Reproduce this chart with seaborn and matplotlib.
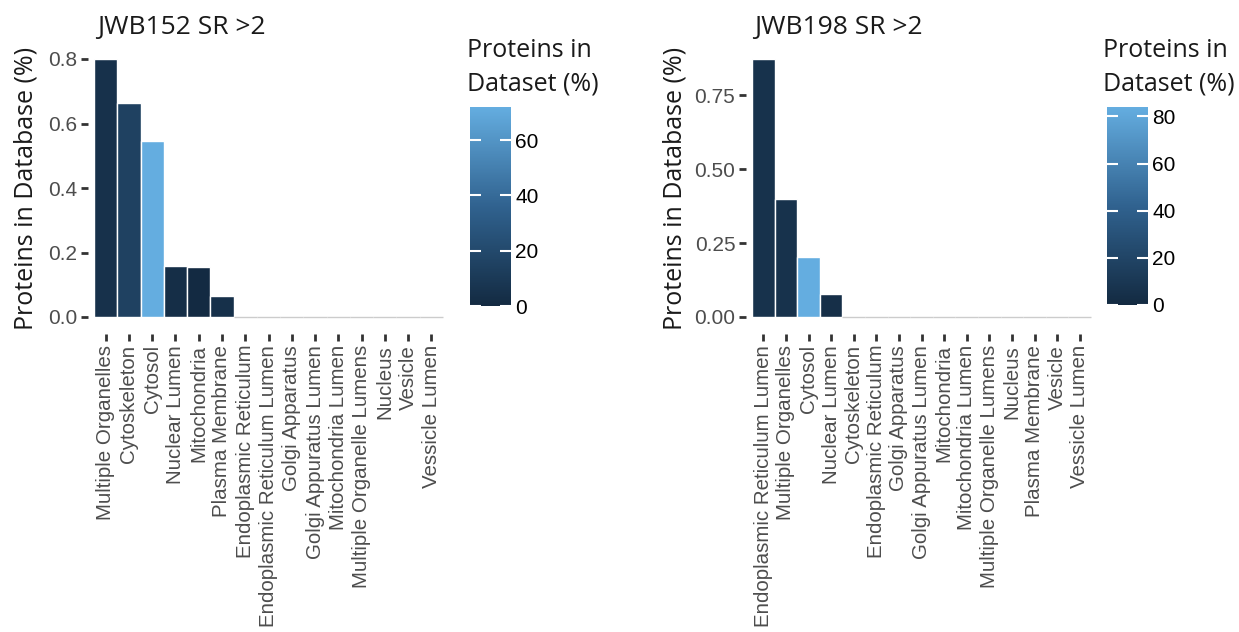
import matplotlib
matplotlib.use("Agg")
import matplotlib.pyplot as plt
import seaborn as sns
import numpy as np
import pandas as pd
from matplotlib.colors import LinearSegmentedColormap, Normalize
from matplotlib.cm import ScalarMappable

# ---------------- data ----------------
cats_a = ["Multiple Organelles", "Cytoskeleton", "Cytosol", "Nuclear Lumen", "Mitochondria",
          "Plasma Membrane", "Endoplasmic Reticulum", "Endoplasmic Reticulum Lumen",
          "Golgi Apparatus", "Golgi Appuratus Lumen", "Mitochondria Lumen",
          "Multiple Organelle Lumens", "Nucleus", "Vesicle", "Vessicle Lumen"]
db_a = [0.80, 0.663, 0.546, 0.158, 0.154, 0.064, 0, 0, 0, 0, 0, 0, 0, 0, 0]
ds_a = [5, 15, 72, 3, 0.5, 4, 0, 0, 0, 0, 0, 0, 0, 0, 0]

cats_b = ["Endoplasmic Reticulum Lumen", "Multiple Organelles", "Cytosol", "Nuclear Lumen",
          "Cytoskeleton", "Endoplasmic Reticulum", "Golgi Apparatus", "Golgi Appuratus Lumen",
          "Mitochondria", "Mitochondria Lumen", "Multiple Organelle Lumens", "Nucleus",
          "Plasma Membrane", "Vesicle", "Vessicle Lumen"]
db_b = [0.873, 0.399, 0.204, 0.079, 0, 0, 0, 0, 0, 0, 0, 0, 0, 0, 0]
ds_b = [6, 6, 84, 4, 0, 0, 0, 0, 0, 0, 0, 0, 0, 0, 0]

titles = ["JWB152 SR >2", "JWB198 SR >2"]
yticks_a = [0.0, 0.2, 0.4, 0.6, 0.8]
ytl_a = ["0.0", "0.2", "0.4", "0.6", "0.8"]
yticks_b = [0.0, 0.25, 0.50, 0.75]
ytl_b = ["0.00", "0.25", "0.50", "0.75"]
cb_ticks_a = [0, 20, 40, 60]
cb_ticks_b = [0, 20, 40, 60, 80]

# ---------------- style ----------------
sns.set_theme(style="white")
plt.rcParams["font.family"] = ["Liberation Sans", "DejaVu Sans"]
head_font = ["Open Sans", "DejaVu Sans"]

cmap = LinearSegmentedColormap.from_list("gg", ["#132A41", "#30628F", "#64ADE0"])

W, H = 1239, 632
fig = plt.figure(figsize=(W / 100, H / 100), dpi=100)

def fx(px):
    return px / W

def fy(py):
    return 1 - py / H

panels = [
    dict(cats=cats_a, db=db_a, ds=ds_a, title=titles[0], yt=yticks_a, ytl=ytl_a, cbt=cb_ticks_a,
         ax=(94, 443, 59, 317), cb=(470, 511, 107, 306), title_x=97, ylab_x=26, cbtitle_x=467),
    dict(cats=cats_b, db=db_b, ds=ds_b, title=titles[1], yt=yticks_b, ytl=ytl_b, cbt=cb_ticks_b,
         ax=(752, 1091, 59, 317), cb=(1107, 1148, 107, 305), title_x=754, ylab_x=675, cbtitle_x=1103),
]

for p in panels:
    x0, x1, y0, y1 = p["ax"]
    ax = fig.add_axes([fx(x0), fy(y1), fx(x1 - x0), (y1 - y0) / H])
    norm = Normalize(vmin=min(p["ds"]), vmax=max(p["ds"]))
    df = pd.DataFrame({"cat": p["cats"], "db": p["db"], "ds": p["ds"]})
    pal = {c: cmap(norm(v)) for c, v in zip(p["cats"], p["ds"])}
    sns.barplot(data=df, x="cat", y="db", hue="cat", palette=pal, order=p["cats"],
                hue_order=p["cats"], dodge=False, legend=False, width=1.0,
                edgecolor="white", linewidth=1.0, saturation=1, ax=ax)
    for patch, v in zip(ax.patches, p["db"]):
        if v == 0:
            patch.set_edgecolor("#cccccc")
            patch.set_linewidth(1.0)
            patch.set_clip_on(False)
    ax.set_xlim(-0.5, len(p["cats"]) - 0.5)
    ax.set_ylim(0, max(p["db"]))
    ax.set_xlabel("")
    ax.set_ylabel("")
    for s in ax.spines.values():
        s.set_visible(False)
    ax.spines["bottom"].set_position(("outward", 12))
    ax.spines["left"].set_position(("outward", 4))
    ax.set_yticks(p["yt"])
    ax.set_yticklabels(p["ytl"])
    ax.set_xticks(range(len(p["cats"])))
    ax.set_xticklabels(p["cats"], rotation=90, ha="center", va="top")
    ax.tick_params(axis="both", which="major", length=5, width=2.0, color="#333333",
                   labelsize=15, labelcolor="#4D4D4D", bottom=True, left=True)
    ax.tick_params(axis="x", pad=3, labelsize=14.8)
    ax.tick_params(axis="y", pad=3)
    ax.grid(False)
    ax.set_facecolor("white")

    fig.text(fx(p["title_x"]), fy(34), p["title"], fontsize=19, family=head_font,
             color="#1a1a1a", ha="left", va="baseline")
    fig.text(fx(p["ylab_x"]), fy(188), "Proteins in Database (%)", fontsize=18,
             family=head_font, color="#1a1a1a", rotation=90, ha="center", va="center")

    cx0, cx1, cy0, cy1 = p["cb"]
    cax = fig.add_axes([fx(cx0), fy(cy1), fx(cx1 - cx0), (cy1 - cy0) / H])
    sm = ScalarMappable(norm=norm, cmap=cmap)
    cb = fig.colorbar(sm, cax=cax)
    cb.outline.set_visible(False)
    cb.set_ticks(p["cbt"])
    cb.ax.tick_params(direction="in", color="white", length=8, width=1.5, left=True,
                      right=True, labelright=True, labelsize=15, labelcolor="black", pad=3)
    cax.set_axisbelow(False)
    for t in cax.yaxis.get_major_ticks():
        t.tick1line.set_zorder(5)
        t.tick2line.set_zorder(5)
    fig.text(fx(p["cbtitle_x"]), fy(38), "Proteins in\nDataset (%)", fontsize=18,
             family=head_font, color="#1a1a1a", ha="left", va="top", linespacing=1.45)

fig.savefig("out.png", dpi=100, facecolor="white")
